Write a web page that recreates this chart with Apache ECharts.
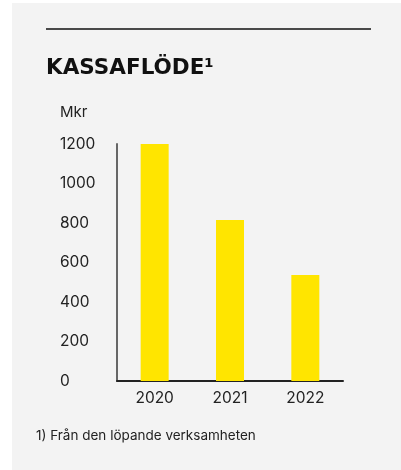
<!DOCTYPE html>
<html>
<head>
<meta charset="utf-8">
<script src="https://cdn.jsdelivr.net/npm/echarts@6/dist/echarts.min.js"></script>
<style>
  html, body { margin: 0; padding: 0; background: #fff; }
  #chart { width: 401px; height: 470px; }
</style>
</head>
<body>
<div id="chart"></div>
<script>
// data
const years = ["2020", "2021", "2022"];
const kassaflode = [1200, 815, 537];
const yTicks = [0, 200, 400, 600, 800, 1000, 1200];

const FONT = "Inter, 'Noto Sans', sans-serif";

const myChart = echarts.init(document.getElementById("chart"));

const option = {
  backgroundColor: "#ffffff",
  animation: false,
  textStyle: { fontFamily: FONT },
  graphic: [
    // grå panel
    { type: "rect", z: -10, shape: { x: 12, y: 3, width: 389, height: 467 }, style: { fill: "#f3f3f3" } },
    // linje överst
    { type: "line", shape: { x1: 46, y1: 29, x2: 371, y2: 29 }, style: { stroke: "#111", lineWidth: 1.5 } },
    { type: "text", left: 46, top: 57, style: { text: "KASSAFLÖDE¹", font: "bold 21.5px 'DejaVu Sans', sans-serif", fill: "#111" } },
    { type: "text", left: 60, top: 105, style: { text: "Mkr", font: "15px " + FONT, fill: "#222" } },
    { type: "text", left: 36, top: 429, style: { text: "1) Från den löpande verksamheten", font: "13.5px " + FONT, fill: "#222" } }
  ],
  grid: { left: 117, top: 144, width: 226, height: 237 },
  xAxis: {
    type: "category",
    data: years,
    axisLine: { lineStyle: { color: "#222", width: 2 } },
    axisTick: { show: false },
    axisLabel: { color: "#222", fontSize: 15.5, margin: 9 }
  },
  yAxis: {
    type: "value",
    min: yTicks[0],
    max: yTicks[yTicks.length - 1],
    interval: 200,
    splitLine: { show: false },
    axisLine: { show: true, lineStyle: { color: "#666", width: 2 } },
    axisTick: { show: false },
    axisLabel: {
      color: "#222",
      fontSize: 15.5,
      align: "left",
      margin: 57,
      formatter: (v) => String(v)
    }
  },
  series: [
    {
      type: "bar",
      data: kassaflode,
      barWidth: 28,
      itemStyle: { color: "#FFE500" }
    }
  ]
};

myChart.setOption(option);
</script>
</body>
</html>
